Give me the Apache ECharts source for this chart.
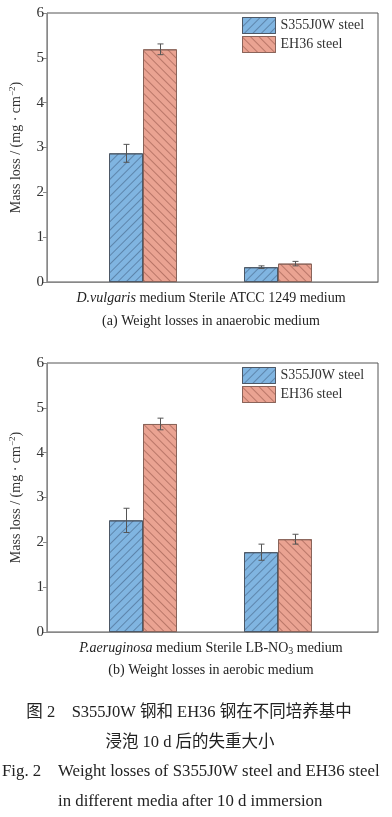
<!DOCTYPE html>
<html><head><meta charset="utf-8">
<script src="https://cdn.jsdelivr.net/npm/echarts@6/dist/echarts.min.js"></script>
<style>html,body{margin:0;padding:0;background:#fff;}#c{width:392px;height:817px;}</style>
</head><body><div id="c"></div>
<script>
// ---- data ----
const seriesNames = ['S355J0W steel', 'EH36 steel'];
const catsA = ['D.vulgaris medium', 'Sterile ATCC 1249 medium'];
const catsB = ['P.aeruginosa medium', 'Sterile LB-NO3 medium'];
const s355A = [2.87, 0.33];
const s355AErr = [0.20, 0.03];
const eh36A = [5.19, 0.41];
const eh36AErr = [0.12, 0.05];
const s355B = [2.49, 1.78];
const s355BErr = [0.27, 0.18];
const eh36B = [4.64, 2.07];
const eh36BErr = [0.13, 0.11];
const yTicks = [0, 1, 2, 3, 4, 5, 6];

const SERIF = '"Liberation Serif","Times New Roman",serif';
const CJK = '"Liberation Serif","Noto Sans CJK SC",serif';
const blue = '#80b5e1', red = '#eaa392';
const decalBlue = {symbol:'rect', symbolSize:1, dashArrayX:[1,0], dashArrayY:[1,5], rotation: -Math.PI/4, color:'rgba(40,60,90,0.4)'};
const decalRed = {symbol:'rect', symbolSize:1, dashArrayX:[1,0], dashArrayY:[1,5], rotation: Math.PI/4, color:'rgba(110,50,40,0.4)'};

const chart = echarts.init(document.getElementById('c'), null, {renderer:'canvas'});

function frameGrid(top){ return {left:43, top:top, width:335, height:269, show:true, borderColor:'#555', borderWidth:1, backgroundColor:'transparent'}; }
function barGrid(top){ return {left:75.5, top:top, width:270, height:269}; }

const yName = '{a|Mass loss / (mg · cm}{s|−2}{a|)}';
function frameY(gi){
  return {type:'value', gridIndex:gi, min:yTicks[0], max:yTicks[yTicks.length-1], interval:1,
    axisLine:{show:true, lineStyle:{color:'#888', width:1}},
    axisTick:{show:true, inside:false, length:4, lineStyle:{color:'#888'}},
    splitLine:{show:false},
    axisLabel:{color:'#333', fontFamily:SERIF, fontSize:15, margin:3},
    name: yName, nameLocation:'middle', nameGap:22, nameRotate:90,
    nameTextStyle:{rich:{a:{fontFamily:SERIF, fontSize:14, color:'#333'}, s:{fontFamily:SERIF, fontSize:9, color:'#333', padding:[0,0,8,0]}}}
  };
}
function hiddenY(gi){ return {type:'value', gridIndex:gi, min:0, max:6, show:false}; }
function frameX(gi){ return {type:'value', gridIndex:gi, min:0, max:1, axisLine:{show:true, lineStyle:{color:'#888'}}, axisTick:{show:false}, axisLabel:{show:false}, splitLine:{show:false}}; }
function barX(gi, cats){ return {type:'category', gridIndex:gi, data:cats, show:false}; }

function errSeries(xi, vals, errs, side){
  return {type:'custom', xAxisIndex:xi, yAxisIndex:xi, z:10, silent:true,
    data: vals.map((v,i)=>[i, v, errs[i]]),
    encode:{x:0, y:1},
    renderItem:function(params, api){
      const i = api.value(0), v = api.value(1), e = api.value(2);
      const top = api.coord([i, v+e]), bot = api.coord([i, v-e]);
      const x = Math.round(top[0] + side*17) + 0.5;
      const st = {stroke:'#555', lineWidth:1};
      return {type:'group', children:[
        {type:'line', shape:{x1:x, y1:top[1], x2:x, y2:bot[1]}, style:st},
        {type:'line', shape:{x1:x-3, y1:top[1], x2:x+3, y2:top[1]}, style:st},
        {type:'line', shape:{x1:x-3, y1:bot[1], x2:x+3, y2:bot[1]}, style:st}
      ]};
    }
  };
}
function barSeries(xi, name, vals, color, border, decal){
  return {type:'bar', name:name, xAxisIndex:xi, yAxisIndex:xi, data:vals, barWidth:34, barGap:'0%',
    itemStyle:{color:color, borderColor:border, borderWidth:1, decal:decal}};
}

function legend(top){
  return {data:seriesNames, orient:'vertical', left:242, top:top, padding:0, itemWidth:33, itemHeight:16, itemGap:2, icon:'rect',
    textStyle:{fontFamily:SERIF, fontSize:14, color:'#333'}, selectedMode:false,
    itemStyle:{decal:'inherit', borderColor:'inherit', borderWidth:1}};
}

function txt(x, y, text, size, rich, align){
  return {type:'text', x:x, y:y, style:{text:text, fontFamily:SERIF, fontSize:size, fill:'#222', align:align||'center', verticalAlign:'middle', rich:rich||{}}};
}
const richIt = {i:{fontFamily:SERIF, fontSize:14, fontStyle:'italic', fill:'#222'}, n:{fontFamily:SERIF, fontSize:14, fill:'#222'}, sub:{fontFamily:SERIF, fontSize:10, fill:'#222', padding:[6,0,0,0]}};

chart.setOption({
  animation:false,
  grid:[frameGrid(13), barGrid(13), frameGrid(363), barGrid(363)],
  xAxis:[frameX(0), barX(1, catsA), frameX(2), barX(3, catsB)],
  yAxis:[frameY(0), hiddenY(1), frameY(2), hiddenY(3)],
  legend:[legend(17), legend(367)],
  series:[
    barSeries(1, seriesNames[0], s355A, blue, '#4d5866', decalBlue),
    barSeries(1, seriesNames[1], eh36A, red, '#8a645a', decalRed),
    errSeries(1, s355A, s355AErr, -1),
    errSeries(1, eh36A, eh36AErr, 1),
    barSeries(3, seriesNames[0], s355B, blue, '#4d5866', decalBlue),
    barSeries(3, seriesNames[1], eh36B, red, '#8a645a', decalRed),
    errSeries(3, s355B, s355BErr, -1),
    errSeries(3, eh36B, eh36BErr, 1)
  ],
  graphic:[
    txt(211, 298, '{i|D.vulgaris}{n| medium Sterile ATCC 1249 medium}', 14, richIt),
    txt(211, 321, '(a) Weight losses in anaerobic medium', 14),
    txt(211, 648, '{i|P.aeruginosa}{n| medium Sterile LB-NO}{sub|3}{n| medium}', 14, richIt),
    txt(211, 670, '(b) Weight losses in aerobic medium', 14),
    {type:'text', x:189, y:713, style:{text:'图 2    S355J0W 钢和 EH36 钢在不同培养基中', fontFamily:CJK, fontSize:16.5, fill:'#222', align:'center', verticalAlign:'middle'}},
    {type:'text', x:190, y:743, style:{text:'浸泡 10 d 后的失重大小', fontFamily:CJK, fontSize:16.5, fill:'#222', align:'center', verticalAlign:'middle'}},
    {type:'text', x:2, y:772, style:{text:'Fig. 2    Weight losses of S355J0W steel and EH36 steel', fontFamily:SERIF, fontSize:16.8, fill:'#222', align:'left', verticalAlign:'middle'}},
    {type:'text', x:58, y:802, style:{text:'in different media after 10 d immersion', fontFamily:SERIF, fontSize:16.8, fill:'#222', align:'left', verticalAlign:'middle'}}
  ]
});
</script></body></html>
